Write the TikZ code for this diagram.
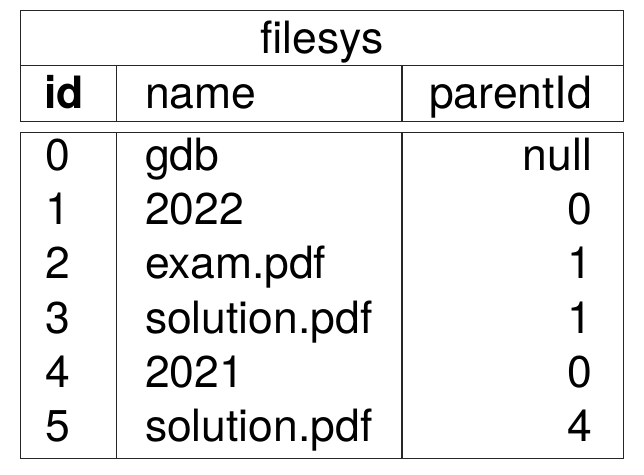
\documentclass[tikz,border=0pt]{standalone}
\usepackage{fontspec}
\setmainfont{TeX Gyre Heros}
\begin{document}
\begin{tikzpicture}[x=1pt,y=-1pt,
  frame/.style={draw=black!85,line width=1.5pt},
  cell/.style={inner sep=0pt,outer sep=0pt,font=\fontsize{44.5}{46}\selectfont},
  leftcell/.style={cell,anchor=base west},
  rightcell/.style={cell,anchor=base east},
  midcell/.style={cell,anchor=base}]
\useasboundingbox (0,0) rectangle (644,474);
% header frame
\draw[frame] (20.7,10.7) rectangle (623.7,121.7);
\draw[frame] (20.7,65.7) -- (623.7,65.7);
\draw[frame] (116.7,65.7) -- (116.7,121.7);
\draw[frame] (402,65.7) -- (402,121.7);
% data frame
\draw[frame] (20.7,132.7) rectangle (623.7,458.3);
\draw[frame] (116.7,132.7) -- (116.7,458.3);
\draw[frame] (402,132.7) -- (402,458.3);
% title and header
\node[midcell] (title) at (322,53.5) {filesys};
\node[leftcell] (hid) at (44,108.5) {\bfseries id};
\node[leftcell] (hname) at (145,108.5) {name};
\node[rightcell] (hpar) at (592,108.5) {parentId};
% rows
\foreach \i/\n/\p [count=\k from 0] in {0/gdb/null,1/2022/0,2/exam.pdf/1,3/solution.pdf/1,4/2021/0,5/solution.pdf/4}{
  \node[leftcell] (id\k) at (45,{170.5+54.2*\k}) {\i};
  \node[leftcell] (name\k) at (145,{170.5+54.2*\k}) {\n};
  \node[rightcell] (par\k) at (592,{170.5+54.2*\k}) {\p};
}
\end{tikzpicture}
\end{document}
